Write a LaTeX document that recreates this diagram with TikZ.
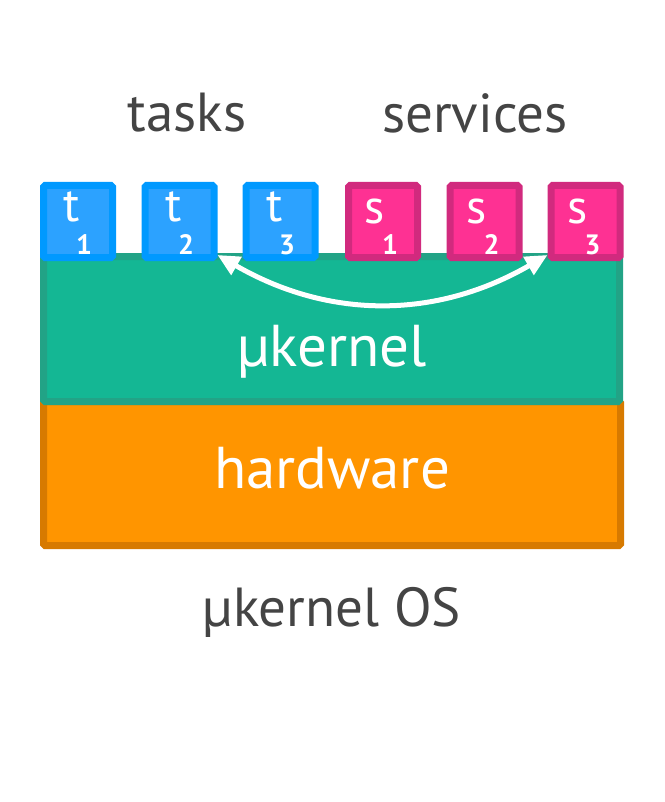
\documentclass[tikz,border=0pt]{standalone}
\usepackage{fontspec}
\setmainfont{PT Sans}
\usetikzlibrary{arrows.meta}

\definecolor{taskline}{HTML}{0099FF}
\definecolor{taskfill}{HTML}{2CA2FF}
\definecolor{servline}{HTML}{D12A7E}
\definecolor{servfill}{HTML}{FE3193}
\definecolor{kernline}{HTML}{22A386}
\definecolor{kernfill}{HTML}{14B794}
\definecolor{hardline}{HTML}{D77A00}
\definecolor{hardfill}{HTML}{FF9500}
\definecolor{txtgray}{HTML}{444444}

\tikzset{
  taskbox/.style={draw=taskline, fill=taskfill, line width=7pt, rounded corners=1.5pt,
    minimum width=69pt, minimum height=72pt, inner sep=0pt},
  servbox/.style={taskbox, draw=servline, fill=servfill},
  layer/.style={line width=7pt, rounded corners=1.5pt, inner sep=0pt},
  boxtext/.style={white, font=\fontsize{48}{52}\selectfont},
  subtext/.style={white, font=\fontsize{28}{30}\selectfont\bfseries},
  title/.style={txtgray, font=\fontsize{55}{60}\selectfont},
  laytext/.style={white, font=\fontsize{59}{64}\selectfont}
}

\begin{document}
\begin{tikzpicture}[x=1pt,y=-1pt]
\useasboundingbox (0,0) rectangle (664,802);
%\draw[help lines,step=50] (0,0) grid (664,802);

% layers
\node[layer, draw=hardline, fill=hardfill, minimum width=577pt, minimum height=144pt] (hw) at (332,473.5) {};
\node[layer, draw=kernline, fill=kernfill, minimum width=576pt, minimum height=145pt] (kern) at (331.5,329) {};
\node[laytext] (kernlbl) at (332,352) {µkernel};
\node[laytext] (hwlbl) at (332,468) {hardware};

% tasks and services
\node[taskbox] (t1) at (78,221.5) {};
\node[taskbox] (t2) at (179.5,221.5) {};
\node[taskbox] (t3) at (280.5,221.5) {};
\node[servbox] (s1) at (383,221.5) {};
\node[servbox] (s2) at (484.5,221.5) {};
\node[servbox] (s3) at (585.5,221.5) {};

\node[boxtext] (t1l) at (72,207) {t};
\node[subtext] (t1s) at (84,245) {1};
\node[boxtext] (t2l) at (173.5,207) {t};
\node[subtext] (t2s) at (186,245) {2};
\node[boxtext] (t3l) at (274.5,207) {t};
\node[subtext] (t3s) at (287,245) {3};
\node[boxtext] (s1l) at (375,211) {s};
\node[subtext] (s1s) at (390,245) {1};
\node[boxtext] (s2l) at (476.5,211) {s};
\node[subtext] (s2s) at (491.5,245) {2};
\node[boxtext] (s3l) at (577.5,211) {s};
\node[subtext] (s3s) at (592.5,245) {3};

% message between task and service
\draw[{Triangle[length=22pt,width=20pt]}-{Triangle[length=22pt,width=20pt]}, white, line width=5pt]
  ([yshift=6pt]t2.south east) to[bend right=30] ([yshift=6pt]s3.south west);

% titles
\node[title] (tasks) at (187,113) {tasks};
\node[title] (services) at (475,113) {services};
\node[title] (os) at (332,612) {µkernel OS};
\end{tikzpicture}
\end{document}
